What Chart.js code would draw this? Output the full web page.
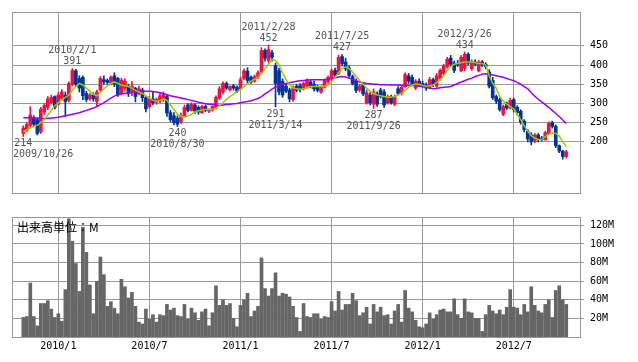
<!DOCTYPE html>
<html lang="ja">
<head>
<meta charset="utf-8">
<title>週足チャート</title>
<script src="https://cdn.jsdelivr.net/npm/chart.js@4.4.1/dist/chart.umd.min.js"></script>
<style>
  body { margin: 0; background: #fff; }
  #wrap { position: relative; width: 638px; height: 362px; }
  canvas { position: absolute; left: 0; }
  #price { top: 0; }
  #volume { top: 205px; }
</style>
</head>
<body>
<div id="wrap">
  <canvas id="price" width="638" height="205"></canvas>
  <canvas id="volume" width="638" height="157"></canvas>
</div>
<script>
// Weekly candles, week 0 = 2009/10/26, last week = 2012/10/15
const opens = [
  222,230,243,262,258,226,278,290,302,318, 298,312,322,308,350,385,365,368,326,312,
  322,305,335,362,360,352,372,365,326,340, 345,330,340,325,335,315,292,312,303,306,
  310,318,276,268,262,252,268,296,282,296, 290,276,292,280,282,288,314,330,352,336,
  346,342,338,365,384,368,358,368,382,438, 412,432,398,385,358,345,335,310,345,346,
  338,345,356,350,344,330,342,356,365,386, 378,422,408,392,370,358,335,348,302,322,
  298,325,335,330,302,318,298,338,326,344, 372,368,340,358,352,348,342,362,345,365,
  378,396,418,405,404,385,392,428,390,408, 385,408,402,382,360,318,310,272,300,288,
  310,290,280,254,228,218,202,218,210,206, 222,250,240,190,176,162
];
const highs = [
  242,250,292,268,262,290,300,318,322,320, 328,336,330,356,391,389,372,372,332,326,
  328,335,370,372,364,372,380,368,366,364, 350,357,342,345,340,320,318,330,314,326,
  330,322,282,276,268,275,296,300,302,300, 294,296,296,286,294,320,344,356,356,346,
  350,346,368,390,393,372,374,385,445,442, 452,438,405,392,364,352,340,346,350,352,
  356,364,360,358,348,346,364,372,390,392, 426,427,418,398,374,364,350,352,335,328,
  338,330,340,336,322,322,322,344,346,380, 378,374,362,364,358,354,368,366,378,390,
  402,420,425,410,412,425,434,432,414,414, 412,412,406,388,368,322,314,296,304,314,
  314,294,284,258,232,224,222,222,214,228, 252,254,244,192,178,178
];
const lows = [
  214,226,238,242,218,222,272,284,298,286, 296,308,266,304,346,345,330,310,304,308,
  306,294,332,350,350,348,344,318,322,332, 318,320,304,322,305,278,288,296,298,302,
  305,266,252,244,240,248,265,278,280,274, 272,274,278,276,280,285,310,325,336,332,
  335,328,336,362,352,352,355,364,378,410, 405,410,291,322,316,328,304,305,330,330,
  335,340,340,332,330,326,340,352,360,368, 375,398,385,368,348,328,330,320,298,296,
  287,292,314,290,298,298,294,322,322,342, 352,346,336,344,342,334,338,344,340,360,
  375,392,398,380,396,382,385,400,386,398, 382,396,390,340,310,300,280,268,284,286,
  278,270,246,226,200,192,198,200,202,204, 220,236,185,172,155,158
];
const closes = [
  236,246,270,246,222,285,295,312,316,290, 322,330,305,352,386,350,340,320,310,322,
  312,330,365,356,355,368,350,322,360,358, 325,345,318,338,315,286,312,302,310,320,
  326,275,258,250,246,268,290,282,298,280, 278,292,282,283,292,316,338,352,340,344,
  340,332,362,385,360,356,370,380,438,418, 440,420,352,330,322,332,312,340,334,336,
  352,360,345,338,334,342,360,368,385,374, 420,404,390,372,352,334,345,325,328,302,
  330,298,318,296,318,302,318,326,342,375, 358,350,358,348,346,340,362,350,372,386,
  398,415,402,386,400,420,428,405,408,402, 408,400,396,345,315,306,284,292,288,308,
  284,276,252,232,208,200,218,206,206,224, 248,240,190,176,162,174
];

// Moving averages (green = short, purple = long)
const maShort = [
  226,231,236,240,243,250,258,270,282,294, 302,310,316,322,334,344,352,348,340,332,
  324,320,328,338,346,352,356,352,348,346, 344,340,334,330,326,320,314,308,306,308,
  312,308,296,284,272,266,265,267,272,278, 281,283,284,284,284,288,294,302,311,318,
  324,330,337,344,351,358,363,368,378,390, 402,414,412,400,380,362,348,340,338,337,
  338,341,344,344,344,344,345,348,356,368, 380,390,395,390,382,370,360,350,340,332,
  326,322,320,318,316,316,318,322,326,334, 342,348,350,350,347,345,346,348,354,362,
  372,386,396,402,404,406,408,408,408,406, 404,404,400,372,352,340,318,306,298,292,
  286,272,258,242,228,216,210,206,206,214, 220,223,222,215,200,188
];
const maLong = [
  263,263,262,262,262,261,261,261,262,263, 264,266,268,270,272,274,276,279,282,285,
  288,292,297,302,308,314,319,323,325,326, 327,328,330,331,332,332,332,331,330,328,
  326,323,320,318,316,314,312,310,308,306, 303,301,299,298,297,296,295,296,297,298,
  299,300,302,304,305,307,310,313,318,325, 331,337,343,346,350,352,354,356,358,359,
  360,361,362,362,362,362,362,363,365,367, 369,370,369,366,362,359,356,354,352,351,
  350,350,349,349,349,348,348,348,347,347, 347,347,346,345,344,342,340,338,339,341,
  342,343,344,348,352,356,359,363,366,370, 373,376,377,376,374,372,370,368,365,362,
  359,355,350,344,338,328,319,311,304,297, 290,282,274,266,257,248
];

// Weekly volume, millions of shares
const volumes = [
  21,22,58,22,12,36,36,39,30,21, 25,17,51,127,103,79,49,118,91,56,
  25,60,86,67,33,38,31,25,62,54, 42,48,33,16,14,30,19,24,16,24,
  23,35,29,31,23,22,35,19,31,26, 18,27,30,12,26,55,34,40,34,36,
  20,11,34,40,47,22,28,33,85,52, 44,52,69,44,47,46,43,33,21,6,
  36,22,21,25,25,19,22,21,38,28, 49,29,35,35,47,39,23,26,32,14,
  35,27,32,23,24,14,28,35,16,50, 31,27,18,11,10,14,26,19,24,29,
  30,27,27,41,24,20,41,27,26,20, 20,6,24,34,28,25,29,24,32,51,
  32,31,24,35,27,54,34,28,26,35, 40,21,50,55,40,35
];

// Axis ticks
const tickWeeks = [10, 36, 62, 88, 114, 140];
const tickLabels = ['2010/1', '2010/7', '2011/1', '2011/7', '2012/1', '2012/7'];
const priceTicks = [200, 250, 300, 350, 400, 450];
const volumeTicks = [20, 40, 60, 80, 100, 120];

// High / low markers
const markWeeks = [0, 14, 44, 70, 72, 91, 100, 126];
const markValues = [214, 391, 240, 452, 291, 427, 287, 434];
const markDates = ['2009/10/26', '2010/2/1', '2010/8/30', '2011/2/28', '2011/3/14', '2011/7/25', '2011/9/26', '2012/3/26'];
const markKinds = ['low', 'high', 'low', 'high', 'low', 'high', 'low', 'high'];

const GRID = '#999999';
const UP = '#ee1144';
const DOWN = '#003399';
const X_MIN = -3.23;
const X_MAX = 158.92;

Chart.defaults.font.family = '"DejaVu Sans Mono", monospace';
Chart.defaults.font.size = 10;
Chart.defaults.color = '#000';

const candleColors = closes.map((c, i) => c >= opens[i] ? UP : DOWN);

// full grey box round the plot area
const framePlugin = {
    id: 'frame',
    beforeDatasetsDraw(chart) {
        const { ctx, chartArea: a } = chart;
        ctx.save();
        ctx.strokeStyle = GRID;
        ctx.lineWidth = 1;
        ctx.strokeRect(Math.round(a.left) + 0.5, Math.round(a.top) + 0.5,
            Math.round(a.right - a.left), Math.round(a.bottom - a.top));
        ctx.restore();
    }
};

// date + value text at the marked highs and lows
const markPlugin = {
    id: 'marks',
    afterDatasetsDraw(chart) {
        const { ctx, chartArea: a, scales } = chart;
        ctx.save();
        ctx.font = '10px "DejaVu Sans Mono"';
        ctx.fillStyle = '#555';
        ctx.textBaseline = 'middle';
        ctx.textAlign = 'left';
        const put = (t, cx, cy) => {
            const w = ctx.measureText(t).width;
            const left = Math.max(a.left + 1, Math.min(a.right - w - 1, cx - w / 2));
            ctx.fillText(t, left, cy);
        };
        markWeeks.forEach((w, k) => {
            const px = scales.x.getPixelForValue(w);
            const py = scales.y.getPixelForValue(markValues[k]);
            const dir = markKinds[k] === 'high' ? -1 : 1;
            put(String(markValues[k]), px, py + dir * 7);
            put(markDates[k], px, py + dir * 18);
        });
        ctx.restore();
    }
};

const unitPlugin = {
    id: 'unit',
    afterDatasetsDraw(chart) {
        const { ctx, chartArea: a } = chart;
        ctx.save();
        ctx.font = '12px "Noto Sans CJK JP"';
        ctx.fillStyle = '#000';
        ctx.textBaseline = 'middle';
        ctx.fillText('出来高単位：M', a.left + 5, a.top + 10);
        ctx.restore();
    }
};

function weekAxis(showLabels) {
    return {
        type: 'linear',
        min: X_MIN,
        max: X_MAX,
        offset: false,
        afterBuildTicks: s => { s.ticks = tickWeeks.map(v => ({ value: v })); },
        afterFit: s => { s.height = showLabels ? 25 : 8; },
        grid: { color: GRID, drawTicks: false, offset: false },
        border: { display: false },
        ticks: {
            display: showLabels,
            autoSkip: false,
            maxRotation: 0,
            padding: 3,
            color: '#000',
            callback: (v, i) => tickLabels[i]
        }
    };
}

function valueAxis(min, max, ticks, fmt) {
    return {
        position: 'right',
        min: min,
        max: max,
        afterBuildTicks: s => { s.ticks = ticks.map(v => ({ value: v })); },
        afterFit: s => { s.width = 58; },
        grid: { color: GRID, tickLength: 4 },
        border: { display: false },
        ticks: { padding: 6, color: '#000', callback: fmt }
    };
}

const common = {
    responsive: false,
    animation: false,
    devicePixelRatio: 1,
    events: [],
    plugins: { legend: { display: false }, tooltip: { enabled: false } }
};

new Chart(document.getElementById('price'), {
    type: 'bar',
    data: {
        datasets: [
            {
                type: 'line', data: maShort.map((v, i) => ({ x: i, y: v })),
                borderColor: '#99cc00', borderWidth: 1.5, pointRadius: 0, tension: 0, order: 0
            },
            {
                type: 'line', data: maLong.map((v, i) => ({ x: i, y: v })),
                borderColor: '#9900ff', borderWidth: 1.5, pointRadius: 0, tension: 0, order: 1
            },
            {
                data: opens.map((o, i) => ({ x: i, y: [o, closes[i]] })),
                backgroundColor: candleColors, barThickness: 3, grouped: false,
                minBarLength: 1, borderWidth: 0, order: 2
            },
            {
                data: lows.map((l, i) => ({ x: i, y: [l, highs[i]] })),
                backgroundColor: candleColors, barThickness: 1, grouped: false,
                borderWidth: 0, order: 3
            }
        ]
    },
    options: {
        ...common,
        layout: { padding: { left: 12, top: 10, right: 0, bottom: 0 } },
        scales: {
            x: weekAxis(false),
            y: valueAxis(67, 538, priceTicks, v => String(v))
        }
    },
    plugins: [framePlugin, markPlugin]
});

new Chart(document.getElementById('volume'), {
    type: 'bar',
    data: {
        datasets: [{
            data: volumes.map((v, i) => ({ x: i, y: v })),
            backgroundColor: '#666666', barThickness: 3, borderWidth: 0
        }]
    },
    options: {
        ...common,
        layout: { padding: { left: 12, top: 7, right: 0, bottom: 0 } },
        scales: {
            x: weekAxis(true),
            y: valueAxis(0, 129, volumeTicks, v => v + 'M')
        }
    },
    plugins: [framePlugin, unitPlugin]
});
</script>
</body>
</html>
